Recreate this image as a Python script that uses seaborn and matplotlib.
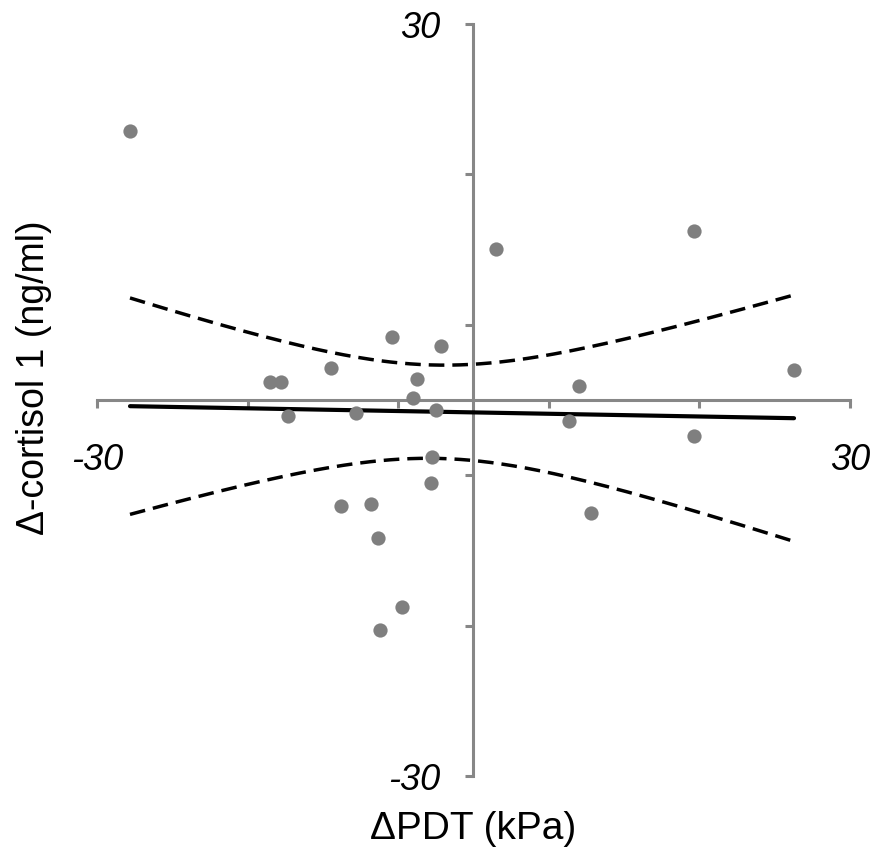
import numpy as np
import pandas as pd
import matplotlib
matplotlib.use("Agg")
from matplotlib import pyplot as plt
import seaborn as sns

# change in PDT (kPa)
delta_pdt = [-27.37, 1.79, 17.57, -6.49, -2.59, -11.35, -16.22, -15.34, -4.50, 8.41,
             25.54, -4.82, -14.78, -9.36, -2.99, 7.61, 17.57, -3.31, -3.39, -10.56,
             -8.17, 9.36, -7.61, -5.70, -7.45]
# change in cortisol 1 (ng/ml)
delta_cortisol = [21.47, 12.05, 13.49, 5.03, 4.31, 2.55, 1.44, 1.44, 1.68, 1.12,
                  2.39, 0.16, -1.28, -1.04, -0.80, -1.68, -2.87, -4.55, -6.62, -8.46,
                  -8.30, -9.02, -11.01, -16.52, -18.36]

tick_values = [-30, -18, -6, 6, 18, 30]
tick_labels = ['-30', '', '', '', '', '30']

T_CRIT = 2.069  # t(0.975, df=23)
AXIS_GREY = '#878787'


def confidence_band(x, y, xs):
    """95% CI of the fitted mean, same as the Excel trendline bands"""
    x = np.asarray(x)
    y = np.asarray(y)
    n = len(x)
    slope, intercept = np.polyfit(x, y, 1)
    resid = y - (intercept + slope * x)
    s = np.sqrt((resid ** 2).sum() / (n - 2))
    sxx = ((x - x.mean()) ** 2).sum()
    fit = intercept + slope * xs
    half = T_CRIT * s * np.sqrt(1 / n + (xs - x.mean()) ** 2 / sxx)
    return fit - half, fit + half


df = pd.DataFrame({'pdt': delta_pdt, 'cortisol': delta_cortisol})

sns.set_style("white")
plt.rcParams['font.family'] = ['Liberation Sans', 'DejaVu Sans']
plt.rcParams['text.color'] = 'black'
plt.rcParams['axes.labelcolor'] = 'black'
plt.rcParams['xtick.labelcolor'] = 'black'
plt.rcParams['ytick.labelcolor'] = 'black'

fig = plt.figure(figsize=(8.78, 8.58), dpi=100)
ax = fig.add_axes([97 / 878, 1 - 776 / 858, 753 / 878, 752 / 858])

sns.regplot(data=df, x='pdt', y='cortisol', ax=ax, ci=None,
            scatter_kws=dict(s=105, color='#7f7f7f', linewidths=0, alpha=1, zorder=4),
            line_kws=dict(color='black', lw=3, zorder=3))

xs = np.linspace(df.pdt.min(), df.pdt.max(), 200)
lo, hi = confidence_band(df.pdt, df.cortisol, xs)
for band in (lo, hi):
    ax.plot(xs, band, color='black', lw=2.5, ls=(0, (4.5, 2.3)), zorder=3)

ax.set_xlim(-30, 30)
ax.set_ylim(-30, 30)

sns.despine(ax=ax)
for side in ('left', 'bottom'):
    ax.spines[side].set_position(('data', 0))
    ax.spines[side].set_color(AXIS_GREY)
    ax.spines[side].set_linewidth(2.2)

ax.set_xticks(tick_values)
ax.set_xticklabels(tick_labels, fontstyle='italic')
ax.set_yticks(tick_values)
ax.set_yticklabels(tick_labels, fontstyle='italic')
ax.tick_params(axis='both', direction='out', length=6, width=2.2,
               color=AXIS_GREY, labelcolor='black', labelsize=26,
               bottom=True, left=True)
ax.tick_params(axis='x', pad=25)
ax.tick_params(axis='y', pad=18)

ax.set_xlabel('ΔPDT (kPa)', fontsize=28, color='black')
ax.set_ylabel('Δ-cortisol 1 (ng/ml)', fontsize=27, color='black')
ax.xaxis.set_label_coords(0.5, -0.047)
ax.yaxis.set_label_coords(-0.06, 0.53)

fig.savefig('out.png', dpi=100)
